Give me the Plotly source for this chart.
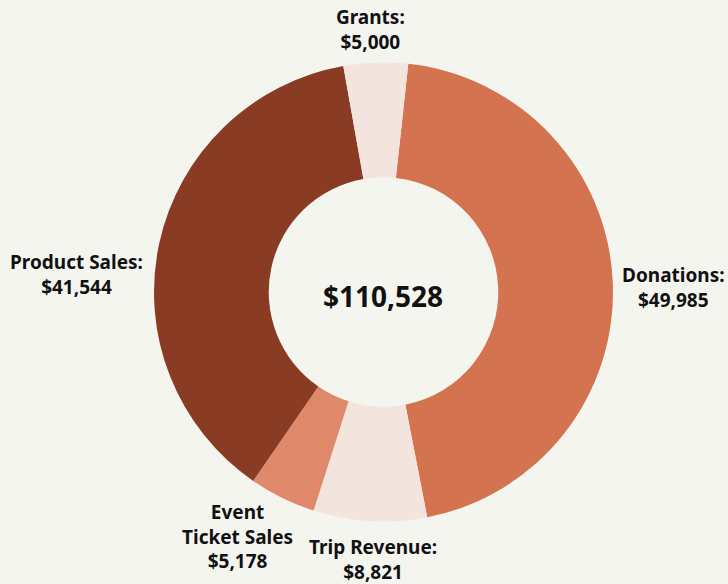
import plotly.graph_objects as go

categories = ["Donations", "Trip Revenue", "Event Ticket Sales", "Product Sales", "Grants"]
label_text = ["Donations:", "Trip Revenue:", "Event<br>Ticket Sales", "Product Sales:", "Grants:"]
values = [49985, 8821, 5178, 41544, 5000]
colors = ["#D4734F", "#F3E4DD", "#E0896A", "#8A3B23", "#F3E4DD"]

# label anchor points (pixel positions in the 728x584 canvas)
label_pos = [(673, 287), (373, 559), (237, 536), (76, 274), (370, 30)]

W, H = 728, 584
total = sum(values)

fig = go.Figure(go.Pie(
    labels=categories,
    values=values,
    textinfo="none",
    marker=dict(colors=colors, line=dict(width=0)),
    hole=0.5,
    sort=False,
    direction="clockwise",
    rotation=6.2,
    showlegend=False,
    hoverinfo="skip",
    domain=dict(x=[154 / W, 613 / W], y=[62.5 / H, 521.5 / H]),
))

for t, v, (px, py) in zip(label_text, values, label_pos):
    fig.add_annotation(
        text=f"<b>{t}<br>${v:,}</b>", x=px / W, y=1 - py / H,
        xref="paper", yref="paper", xanchor="center", yanchor="middle",
        showarrow=False, align="center",
        font=dict(family="Noto Sans", size=19, color="#111111"),
    )

fig.add_annotation(
    text=f"<b>${total:,}</b>", x=383 / W, y=1 - 296 / H, xref="paper", yref="paper",
    showarrow=False, font=dict(family="Noto Sans", size=28, color="#111111"),
)

fig.update_layout(
    width=W, height=H,
    margin=dict(l=0, r=0, t=0, b=0),
    paper_bgcolor="#F5F5EF",
    plot_bgcolor="#F5F5EF",
)

fig.write_html(
    "out.html",
    config={"displayModeBar": False},
    post_script="document.body.style.margin='0';document.body.style.background='#F5F5EF';",
)
